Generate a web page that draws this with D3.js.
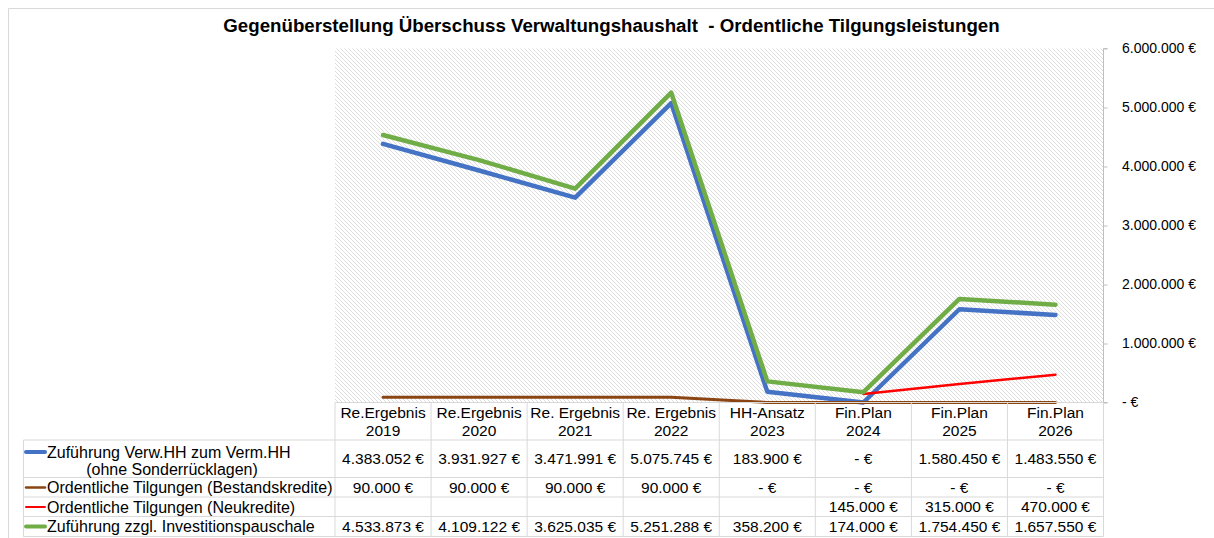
<!DOCTYPE html>
<html><head><meta charset="utf-8">
<script src="https://cdn.jsdelivr.net/npm/d3@7"></script>
<style>
html,body{margin:0;padding:0;background:#fff;}
svg{display:block;font-family:"Liberation Sans",Arial,sans-serif;}
</style></head>
<body><svg id="c" width="1214" height="538"></svg>
<script>
const title = "Gegenüberstellung Überschuss Verwaltungshaushalt  - Ordentliche Tilgungsleistungen";
const categories = ["2019","2020","2021","2022","2023","2024","2025","2026"];
const headerTop = ["Re.Ergebnis","Re.Ergebnis","Re. Ergebnis","Re. Ergebnis","HH-Ansatz","Fin.Plan","Fin.Plan","Fin.Plan"];
const zufuehrung = [4383052,3931927,3471991,5075745,183900,0,1580450,1483550];
const bestandskredite = [90000,90000,90000,90000,0,0,0,0];
const neukredite = [null,null,null,null,null,145000,315000,470000];
const investpauschale = [4533873,4109122,3625035,5251288,358200,174000,1754450,1657550];
const yTicks = [0,1000000,2000000,3000000,4000000,5000000,6000000];
const seriesNames = [["Zuführung Verw.HH zum Verm.HH","(ohne Sonderrücklagen)"],["Ordentliche Tilgungen (Bestandskredite)"],["Ordentliche Tilgungen (Neukredite)"],["Zuführung zzgl. Investitionspauschale"]];
const seriesColors = ["#4472C4","#8B4513","#FF0000","#70AD47"];
const seriesWidths = [4.5,3,2.5,4.5];
const seriesData = [zufuehrung,bestandskredite,neukredite,investpauschale];

const loc = d3.formatLocale({decimal:",",thousands:".",grouping:[3],currency:["","€"]});
const fmtNum = loc.format(",.0f");
const fmtEur = v => v === null ? "" : (v === 0 ? "- €" : fmtNum(v) + " €");

const svg = d3.select("#c");
const L = 335, R = 1103.5, T = 48.5, B = 402.5;
const x = d3.scaleBand().domain(categories).range([L,R]);
const y = d3.scaleLinear().domain([0,6000000]).range([B,T]);
const cx = c => x(c) + x.bandwidth()/2;

// chart border
svg.append("path").attr("d","M8.5,545 V8.5 H1220").attr("fill","none").attr("stroke","#d9d9d9");

// title
svg.append("text").attr("x",611.5).attr("y",32).attr("text-anchor","middle").style("white-space","pre")
  .attr("font-size",18.7).attr("font-weight","bold").attr("fill","#000").text(title);

// pattern
const defs = svg.append("defs");
const pat = defs.append("pattern").attr("id","hatch").attr("width",4).attr("height",4).attr("patternUnits","userSpaceOnUse");
pat.append("rect").attr("width",4).attr("height",4).attr("fill","#fff");
pat.append("path").attr("d","M-1,-1 L5,5 M-1,3 L1,5 M3,-1 L5,1").attr("stroke","#d6d6d6").attr("stroke-width",0.8);
svg.append("rect").attr("x",L).attr("y",T).attr("width",R-L).attr("height",B-T).attr("fill","url(#hatch)");

// y axis on right
const yAxis = d3.axisRight(y).tickValues(yTicks).tickSize(4).tickFormat(d => d === 0 ? "- €" : fmtNum(d) + " €");
const ga = svg.append("g").attr("transform",`translate(${R},0)`).call(yAxis);
ga.select(".domain").attr("stroke","#bfbfbf").attr("d",`M4,${T}H0V${B}H4`);
ga.selectAll(".tick line").attr("stroke","#bfbfbf");
ga.selectAll(".tick text").attr("x",18.5).attr("font-size",14).attr("fill","#000").attr("font-family","Liberation Sans, Arial, sans-serif");

// lines
const line = d3.line().defined(d => d.v !== null).x(d => cx(d.c)).y(d => y(d.v));
seriesData.forEach((s,i) => {
  svg.append("path").datum(categories.map((c,j) => ({c, v:s[j]})))
    .attr("d",line).attr("fill","none").attr("stroke",seriesColors[i])
    .attr("stroke-width",seriesWidths[i]).attr("stroke-linejoin","round").attr("stroke-linecap","round");
});

// data table
const gridC = "#d9d9d9";
const rowEdges = [B,440,477.5,497,516.5,536.5];
const LL = 23.5;
const tg = svg.append("g");
tg.append("line").attr("x1",L).attr("x2",R).attr("y1",rowEdges[0]).attr("y2",rowEdges[0]).attr("stroke",gridC);
rowEdges.slice(1).forEach(e => tg.append("line").attr("x1",LL).attr("x2",R).attr("y1",e).attr("y2",e).attr("stroke",gridC));
tg.append("line").attr("x1",LL).attr("x2",LL).attr("y1",rowEdges[1]).attr("y2",rowEdges[5]).attr("stroke",gridC);
categories.forEach(c => tg.append("line").attr("x1",x(c)).attr("x2",x(c)).attr("y1",rowEdges[0]).attr("y2",rowEdges[5]).attr("stroke",gridC));
tg.append("line").attr("x1",R).attr("x2",R).attr("y1",rowEdges[0]).attr("y2",rowEdges[5]).attr("stroke",gridC);

const fs = 15.5, fsLeg = 16;
categories.forEach((c,j) => {
  const t = tg.append("text").attr("x",cx(c)).attr("text-anchor","middle").attr("font-size",fs).attr("fill","#000");
  t.append("tspan").attr("x",cx(c)).attr("y",418).text(headerTop[j]);
  t.append("tspan").attr("x",cx(c)).attr("y",436).text(c);
});
const rowMid = [459,487.5,507,526.5];
seriesData.forEach((s,i) => {
  categories.forEach((c,j) => {
    tg.append("text").attr("x",cx(c)).attr("y",rowMid[i]+5).attr("text-anchor","middle")
      .attr("font-size",fs).attr("fill","#000").text(fmtEur(s[j]));
  });
});
const legY = [[452,469],[487.5],[507],[526.5]];
seriesNames.forEach((n,i) => {
  tg.append("line").attr("x1",26).attr("x2",45).attr("y1",legY[i][0]).attr("y2",legY[i][0])
    .attr("stroke",seriesColors[i]).attr("stroke-width",seriesWidths[i]-0.5).attr("stroke-linecap","round");
  tg.append("text").attr("x",47).attr("y",legY[i][0]+5.5).attr("font-size",fsLeg).attr("fill","#000").text(n[0]);
  if (n[1]) tg.append("text").attr("x",172).attr("y",legY[i][1]+5.5).attr("text-anchor","middle").attr("font-size",fsLeg).attr("fill","#000").text(n[1]);
});
</script></body></html>
